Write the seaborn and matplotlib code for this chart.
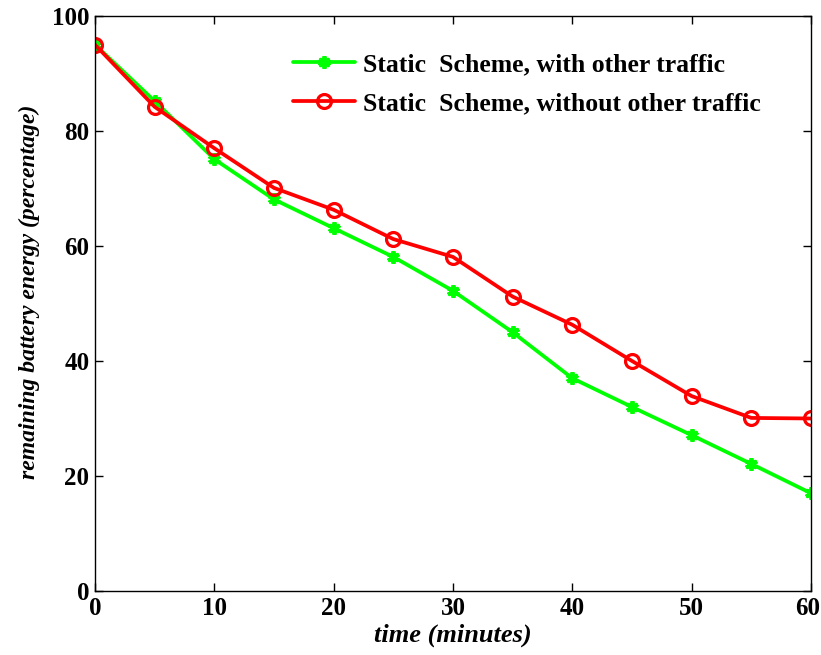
import numpy as np
import pandas as pd
import matplotlib
matplotlib.use("Agg")
import matplotlib.pyplot as plt
import matplotlib.transforms as mtransforms
import seaborn as sns

# значения
time_min = [0, 5, 10, 15, 20, 25, 30, 35, 40, 45, 50, 55, 60]
with_traffic = [95, 85.2, 75.1, 68.1, 63.1, 58.1, 52.2, 45.0, 37.0, 32.0, 27.1, 22.1, 17.0]
without_traffic = [95, 84.2, 77.0, 70.1, 66.3, 61.2, 58.1, 51.2, 46.3, 40.0, 33.9, 30.1, 30.0]

label_with = "Static  Scheme, with other traffic"
label_without = "Static  Scheme, without other traffic"

sns.set_style("ticks", {'text.color': 'black', 'axes.labelcolor': 'black',
                        'xtick.color': 'black', 'ytick.color': 'black',
                        'axes.edgecolor': 'black'})
plt.rcParams['font.family'] = ['Liberation Serif', 'DejaVu Serif']
plt.rcParams['font.weight'] = 'bold'

fig = plt.figure(figsize=(8.21, 6.55), dpi=100)
ax = fig.add_axes([0.1157, 0.0977, 0.8721, 0.8779])

sns.lineplot(x=time_min, y=with_traffic, ax=ax, color='#00ff00', lw=2.7,
             marker=(6, 2, 0), markersize=9, markeredgewidth=2.8,
             markeredgecolor='#00ff00', label=label_with)
sns.lineplot(x=time_min, y=without_traffic, ax=ax, color='#ff0000', lw=2.7,
             marker='o', markersize=10, markerfacecolor='none',
             markeredgewidth=2.3, markeredgecolor='#ff0000', label=label_without)

ax.set_xlim(0, 60)
ax.set_ylim(0, 100)
ax.set_xticks(range(0, 61, 10))
ax.set_yticks(range(0, 101, 20))
ax.tick_params(direction='in', top=True, right=True, length=6, width=1,
               labelsize=18, pad=4, colors='black')
for lab in ax.get_xticklabels() + ax.get_yticklabels():
    lab.set_fontweight('bold')
# последнюю подпись чуть левее, чтобы не обрезалась
last = ax.get_xticklabels()[-1]
last.set_transform(last.get_transform() +
                   mtransforms.ScaledTranslation(-3 / 100, 0, fig.dpi_scale_trans))
for sp in ax.spines.values():
    sp.set_linewidth(1.0)
    sp.set_color('black')

ax.set_xlabel('time (minutes)', fontsize=19, fontstyle='italic', fontweight='bold', labelpad=3)
ax.set_ylabel('remaining battery energy (percentage)', fontsize=17,
              fontstyle='italic', fontweight='bold')
ax.yaxis.set_label_coords(-0.077, 0.52)

leg = ax.legend(loc='upper left', bbox_to_anchor=(0.277, 0.935), frameon=False,
                borderaxespad=0, borderpad=0,
                prop={'family': 'Liberation Serif', 'weight': 'bold', 'size': 18.5},
                handlelength=2.4, handletextpad=0.3, labelspacing=0.62)

plt.savefig('out.png', dpi=100)
